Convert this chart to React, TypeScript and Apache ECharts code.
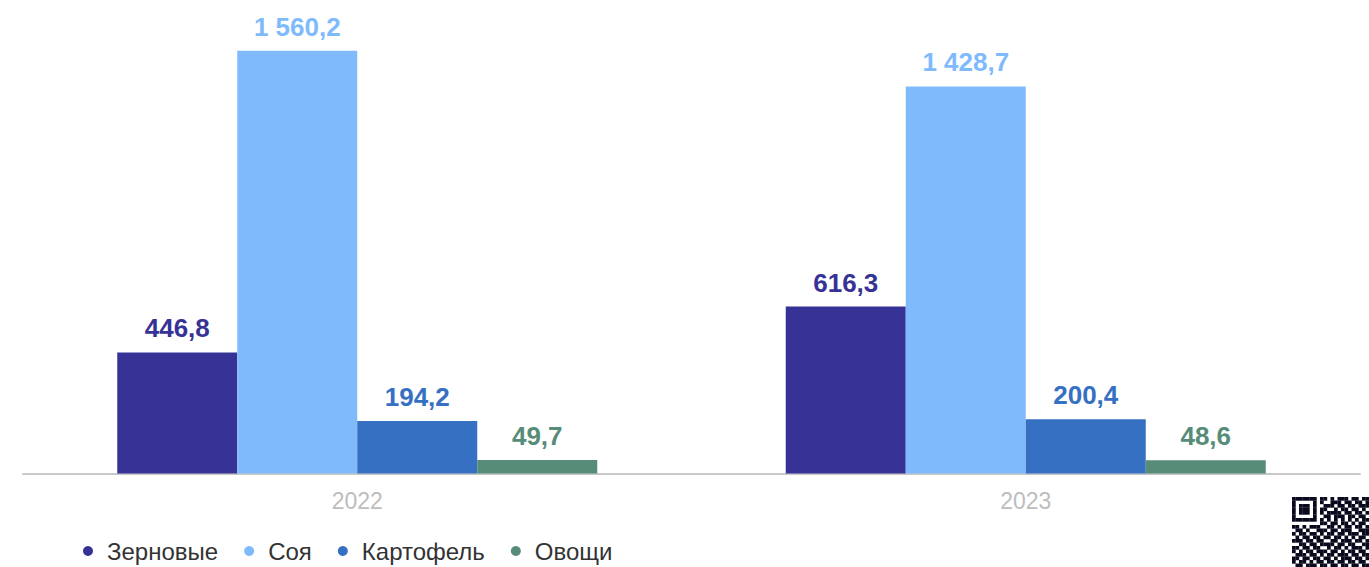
import React, { useEffect, useRef } from "react";
import * as echarts from "echarts";

const categories = ["2022", "2023"];
const seriesNames = ["Зерновые", "Соя", "Картофель", "Овощи"];
const grain = [446.8, 616.3];
const soy = [1560.2, 1428.7];
const potato = [194.2, 200.4];
const vegetables = [49.7, 48.6];
const colors = ["#373295", "#7fbbfc", "#3570c2", "#568c78"];

const qrRows = [
  "1111111011010111011011",
  "1000001010011101101101",
  "1011101001110110110111",
  "1011101011001011011010",
  "1011101010111101101101",
  "1000001001101110110110",
  "1111111010101010101011",
  "0000000011011011010110",
  "1101011100110101101101",
  "0110100111011011100111",
  "1011011010110110111011",
  "0101101101101101010110",
  "1110110110011011101101",
  "0011011011110110110011",
  "1101101100101101011101",
  "1010110111011010110110",
  "0111011010110111011011",
  "1101101101101011101101",
  "1011010110110110110110",
  "0110111011011011011011",
];

function fmt(v: number): string {
  const [i, d] = v.toFixed(1).split(".");
  const withSpaces = i.replace(/\B(?=(\d{3})+(?!\d))/g, " ");
  return withSpaces + "," + d;
}

const FONT = "Arial, 'Liberation Sans', sans-serif";

export default function App() {
  const ref = useRef<HTMLDivElement>(null);
  useEffect(() => {
    if (!ref.current) return;
    const chart = echarts.init(ref.current, undefined, { renderer: "svg" });
    const data = [grain, soy, potato, vegetables];
    const qr: any[] = [];
    const m = 3.5;
    qrRows.forEach((row, r) => {
      for (let c = 0; c < row.length; c++) {
        if (row[c] === "1") {
          qr.push({
            type: "rect",
            shape: { x: 1292 + c * m, y: 497 + r * m, width: m + 0.2, height: m + 0.2 },
            style: { fill: "#0a0a1e" },
            silent: true,
          });
        }
      }
    });
    chart.setOption({
      animation: false,
      textStyle: { fontFamily: FONT },
      grid: { left: 23, right: 9, top: 40, height: 433.5 },
      legend: {
        data: seriesNames,
        left: 83,
        top: 539,
        padding: 0,
        icon: "circle",
        itemWidth: 28,
        itemHeight: 10,
        itemGap: 26,
        textStyle: { fontSize: 24, color: "#333", fontFamily: FONT },
      },
      xAxis: {
        type: "category",
        data: categories,
        axisLine: { lineStyle: { color: "#c8c8c8", width: 2 } },
        axisTick: { show: false },
        axisLabel: { color: "#bdbdbd", fontSize: 23, margin: 16 },
      },
      yAxis: {
        type: "value",
        min: 0,
        max: 1600,
        show: false,
        splitLine: { show: false },
      },
      series: seriesNames.map((name, i) => ({
        name,
        type: "bar",
        data: data[i],
        barWidth: 120,
        barGap: "0%",
        itemStyle: { color: colors[i] },
        label: {
          show: true,
          position: "top",
          distance: 11,
          color: colors[i],
          fontSize: 26,
          fontWeight: "bold",
          fontFamily: FONT,
          formatter: (p: any) => fmt(p.value),
        },
      })),
      graphic: qr,
    });
    return () => chart.dispose();
  }, []);
  return <div ref={ref} style={{ width: 1369, height: 567, position: "absolute", left: 0, top: 0 }} />;
}
